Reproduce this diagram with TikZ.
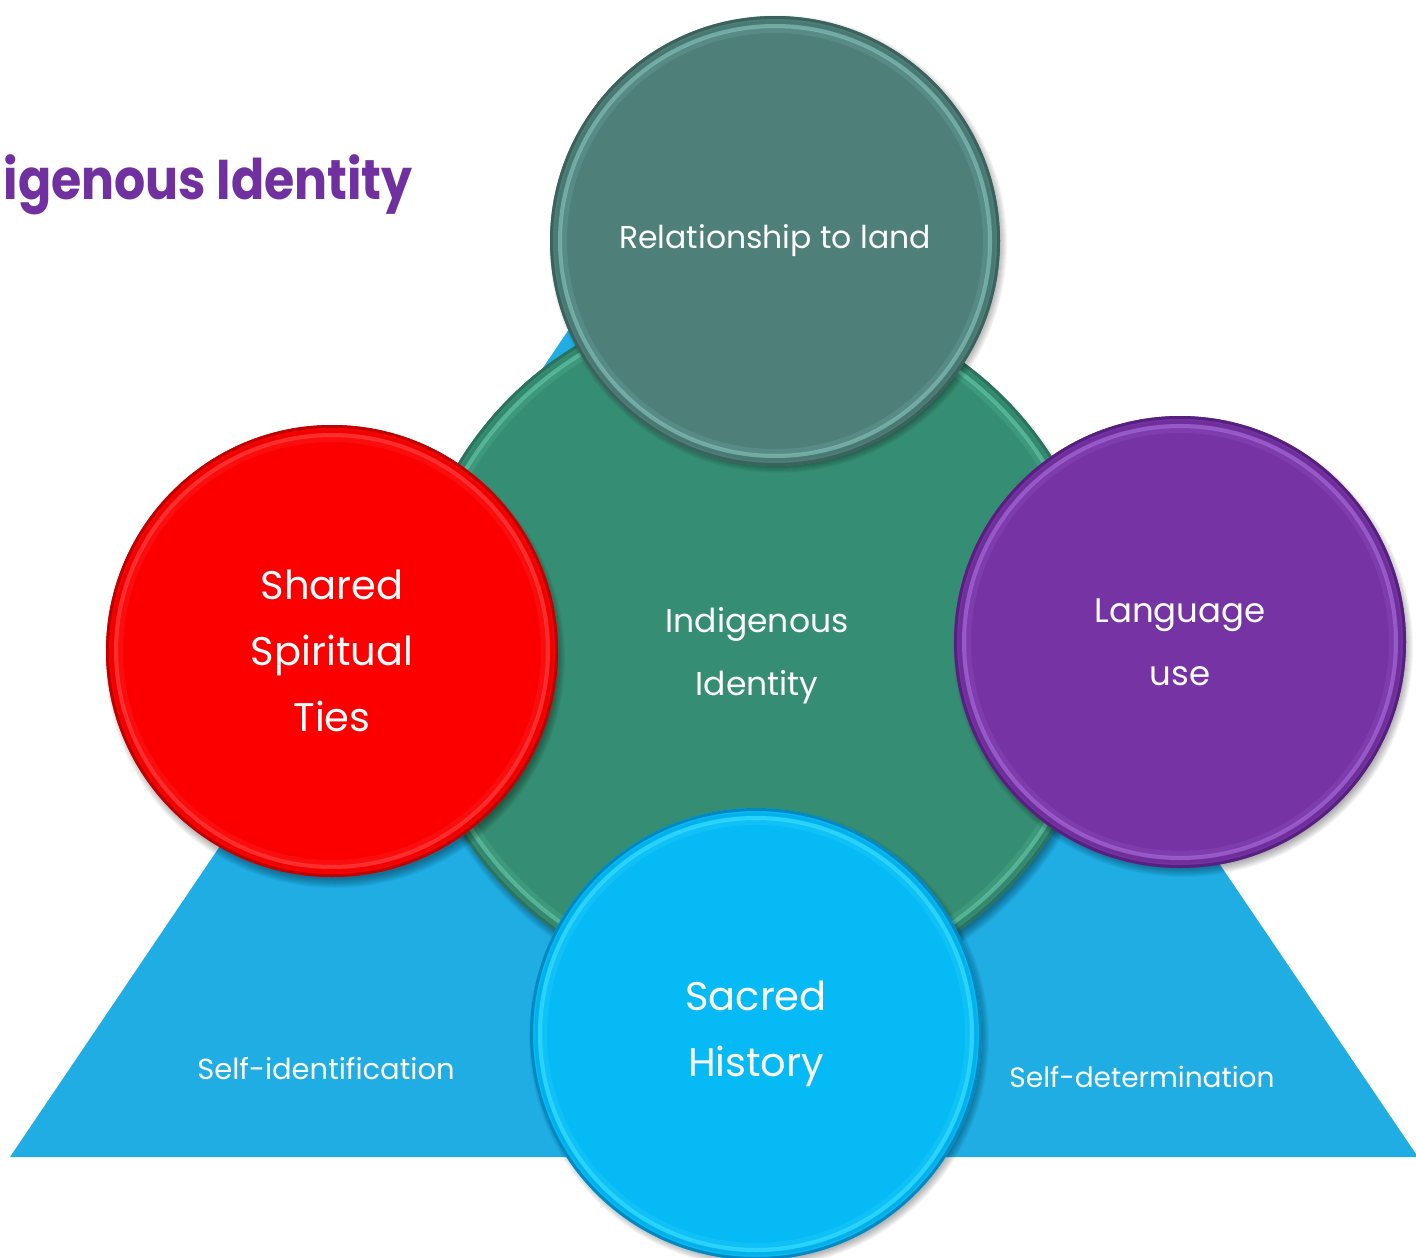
\documentclass[tikz,border=0pt]{standalone}
\usepackage{fontspec}
\setmainfont{Poppins}
\definecolor{cTri}{HTML}{1FADE4}
\definecolor{cGrn}{HTML}{358E73}
\definecolor{cGrnD}{HTML}{2B735F}
\definecolor{cGrnL}{HTML}{74D8B6}
\definecolor{cLand}{HTML}{4E7F79}
\definecolor{cLandD}{HTML}{3C625D}
\definecolor{cLandL}{HTML}{92D6CE}
\definecolor{cRed}{HTML}{FC0000}
\definecolor{cRedD}{HTML}{BE0000}
\definecolor{cRedL}{HTML}{FF5A5A}
\definecolor{cPur}{HTML}{7533A3}
\definecolor{cPurD}{HTML}{56207F}
\definecolor{cPurL}{HTML}{B77CEB}
\definecolor{cSky}{HTML}{05BAF5}
\definecolor{cSkyD}{HTML}{0089C0}
\definecolor{cSkyL}{HTML}{4DEBFF}
\definecolor{cTitle}{HTML}{7030A0}
\newcommand\dshadow[3]{%
  \foreach \k in {-5,...,4}
    \fill[black, opacity=0.04] (#1+3,#2+7) circle[radius=#3pt+\k pt];
}
\newcommand\bevel[4]{%
  \draw[#3, line width=3pt] (#1.center) circle[radius=#2pt-1.5pt];
  \draw[#3, line width=3pt, opacity=.2] (#1.center) circle[radius=#2pt-6pt];
  \draw[#4, line width=4pt, opacity=.5] (#1.center) circle[radius=#2pt-10pt];
  \draw[#4, line width=6pt, opacity=.15] (#1.center) circle[radius=#2pt-14pt];
}
\tikzset{
  disc/.style={circle, inner sep=0pt, minimum size=#1, text=white, align=center},
  lbl/.style={text=white, inner sep=0pt, align=center}
}
\begin{document}
\begin{tikzpicture}[x=1pt, y=-1pt]
\useasboundingbox (0,0) rectangle (1416,1258);
% background triangle
\fill[cTri] (10,1157) -- (713,116) -- (1418,1157) -- cycle;
\node[lbl, font=\fontsize{29}{35}\selectfont] (selfid) at (326,1069) {Self-identification};
\node[lbl, font=\fontsize{28}{34}\selectfont] (selfdet) at (1142,1077) {Self-determination};
% title
\node[anchor=base east, inner sep=0pt, text=cTitle, font=\fontsize{56}{60}\selectfont\bfseries] (title) at (413,199) {\scalebox{0.875}[1]{igenous Identity}};
% center circle
\dshadow{757}{645}{350}
\node[disc=700pt, fill=cGrn] (ident) at (757,645) {};
\bevel{ident}{350}{cGrnD}{cGrnL}
\node[lbl, font=\fontsize{33}{63}\selectfont] (identtxt) at (757,656) {Indigenous\\Identity};
% top circle
\dshadow{775}{237}{225}
\node[disc=450pt, fill=cLand, font=\fontsize{31.5}{40}\selectfont] (land) at (775,241) {Relationship to land};
\bevel{land}{225}{cLandD}{cLandL}
% left circle
\dshadow{332}{651}{226}
\node[disc=452pt, fill=cRed, font=\fontsize{40}{66}\selectfont] (ties) at (332,651) {Shared\\Spiritual\\Ties};
\bevel{ties}{226}{cRedD}{cRedL}
% right circle
\dshadow{1180}{640}{226}
\node[disc=452pt, fill=cPur, font=\fontsize{34}{63}\selectfont] (lang) at (1180,642) {Language\\use};
\bevel{lang}{226}{cPurD}{cPurL}
% bottom circle
\dshadow{756}{1031}{226}
\node[disc=452pt, fill=cSky, font=\fontsize{40}{66}\selectfont] (hist) at (756,1034) {Sacred\\History};
\bevel{hist}{226}{cSkyD}{cSkyL}
\end{tikzpicture}
\end{document}
